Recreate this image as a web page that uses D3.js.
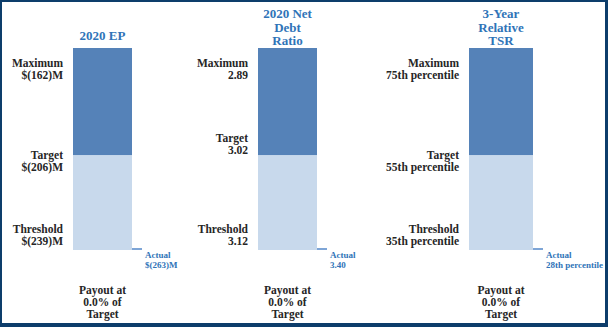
<!DOCTYPE html>
<html>
<head>
<meta charset="utf-8">
<script src="https://cdn.jsdelivr.net/npm/d3@7"></script>
<style>
  html, body { margin: 0; padding: 0; background: #ffffff; }
  svg { display: block; }
</style>
</head>
<body>
<svg id="chart" width="608" height="327"></svg>
<script>
// ---- data ----
const metrics = ["2020 EP", "2020 Net Debt Ratio", "3-Year Relative TSR"];
const titleLines = [["2020 EP"], ["2020 Net", "Debt", "Ratio"], ["3-Year", "Relative", "TSR"]];
const levelNames = ["Threshold", "Target", "Maximum"];
const levelShare = [0, 0.47, 1];            // position of each level along the bar
const thresholdValues = ["$(239)M", "3.12", "35th percentile"];
const targetValues = ["$(206)M", "3.02", "55th percentile"];
const maximumValues = ["$(162)M", "2.89", "75th percentile"];
const actualValues = ["$(263)M", "3.40", "28th percentile"];
const actualPayout = [0.0, 0.0, 0.0];        // payout as share of target

// ---- layout ----
const W = 608, H = 327;
const svg = d3.select("#chart");
const font = "'Liberation Serif', 'Times New Roman', serif";
const cDark = "#5582b8", cLight = "#c8d9ec", cActual = "#7ea5d6";
const cTitle = "#2f74b8", cText = "#262626", cBorder = "#0d3d6b";

// border
svg.append("rect").attr("x", 0).attr("y", 0).attr("width", W).attr("height", H).attr("fill", cBorder);
svg.append("rect").attr("x", 2).attr("y", 2).attr("width", W - 5).attr("height", H - 6).attr("fill", "#ffffff");

const xCenter = d3.scaleOrdinal().domain(metrics).range([102.5, 287.5, 501]);
const barW = d3.scaleOrdinal().domain(metrics).range([59, 59, 64]);
const y = d3.scaleLinear().domain([0, 1]).range([250, 48]);
const actualW = 10;
const actualH = d3.scaleLinear().domain([0, 1]).range([2, 95]);

metrics.forEach((m, i) => {
  const cx = xCenter(m), w = barW(m), left = cx - w / 2, right = cx + w / 2;
  const g = svg.append("g");

  // segments
  const segs = [
    {from: levelShare[0], to: levelShare[1], color: cLight},
    {from: levelShare[1], to: levelShare[2], color: cDark}
  ];
  g.selectAll("rect.seg").data(segs).join("rect")
    .attr("class", "seg")
    .attr("x", left).attr("width", w)
    .attr("y", d => y(d.to)).attr("height", d => y(d.from) - y(d.to))
    .attr("fill", d => d.color);

  // actual
  const ah = actualH(actualPayout[i]);
  g.append("rect").attr("x", right).attr("width", actualW)
    .attr("y", y(0) - ah).attr("height", ah).attr("fill", cActual);

  // title
  const tl = titleLines[i];
  const tLast = 40.5 + (tl.length === 1 ? -5.5 : 0);
  g.append("text").attr("text-anchor", "middle")
    .attr("font-family", font).attr("font-weight", "bold").attr("font-size", 13)
    .attr("fill", cTitle)
    .selectAll("tspan").data(tl).join("tspan")
    .attr("x", cx).attr("y", (d, k) => tLast + 4.5 - (tl.length - 1 - k) * 13.5)
    .text(d => d);

  // level labels
  const vals = [thresholdValues[i], targetValues[i], maximumValues[i]];
  const offsets = [-21, i === 1 ? -17 : 0, 15];
  levelNames.forEach((ln, k) => {
    const yc = y(levelShare[k]) + offsets[k];
    const t = g.append("text").attr("text-anchor", "end")
      .attr("font-family", font).attr("font-weight", "bold").attr("font-size", 11.5)
      .attr("fill", cText);
    t.append("tspan").attr("x", left - 10).attr("y", yc + 4).text(ln);
    t.append("tspan").attr("x", left - 10).attr("y", yc + 15.5).text(vals[k]);
  });

  // actual label
  const at = g.append("text").attr("font-family", font).attr("font-weight", "bold")
    .attr("font-size", 9).attr("fill", cTitle);
  at.append("tspan").attr("x", right + 13).attr("y", y(0) + 8).text("Actual");
  at.append("tspan").attr("x", right + 13).attr("y", y(0) + 17.5).text(actualValues[i]);

  // payout
  const pl = ["Payout at", d3.format(".1%")(actualPayout[i]) + " of", "Target"];
  g.append("text").attr("text-anchor", "middle")
    .attr("font-family", font).attr("font-weight", "bold").attr("font-size", 11.5)
    .attr("fill", cText)
    .selectAll("tspan").data(pl).join("tspan")
    .attr("x", cx).attr("y", (d, k) => 294 + k * 11.8).text(d => d);
});
</script>
</body>
</html>
